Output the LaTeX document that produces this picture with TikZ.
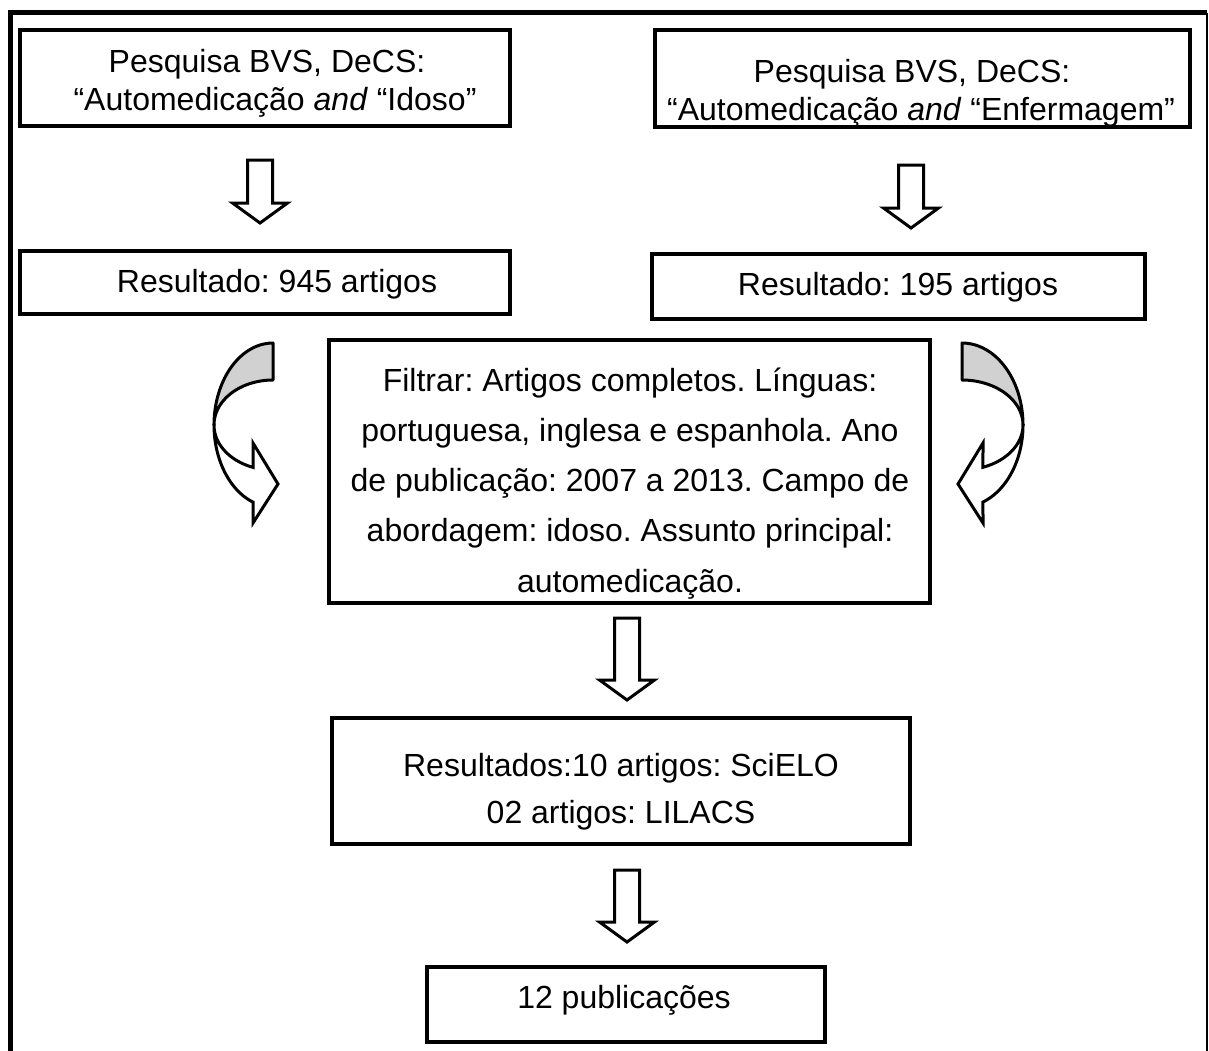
\documentclass[tikz,border=0pt]{standalone}
\usepackage{fontspec}
\setmainfont{Liberation Sans}
\begin{document}
\frenchspacing
\begin{tikzpicture}[x=1pt,y=-1pt,
  box/.style={draw, line width=4pt, fill=white, inner sep=0pt, outer sep=0pt, minimum width=#1},
  txt/.style={font=\fontsize{32}{38}\selectfont\frenchspacing, inner sep=0pt, anchor=base},
  arrowline/.style={draw=black, fill=white, line width=3pt, line join=miter},
  curvgray/.style={draw=black, fill=black!18, line width=3pt, line join=round},
  curvwhite/.style={draw=black, fill=white, line width=3pt, line join=miter},
  pics/blockdown/.style={code={
    \path[arrowline] (-12.5,0) -- (12.5,0) -- (12.5,#1) -- (27.5,#1) -- (0,{#1+20}) -- (-27.5,#1) -- (-12.5,#1) -- cycle;}}
]
\useasboundingbox (0,0) rectangle (1209,1050);
% outer frame
\draw[line width=4.5pt] (10.5,1052) -- (10.5,12.5) -- (1207,12.5);
\draw[line width=2.5pt] (1207,12.5) -- (1207,1052);

% top left
\node[box=490, minimum height=96] (tl) at (265,78) {};
\node[txt] (tl1) at (267,72) {Pesquisa BVS, DeCS:};
\node[txt] (tl2) at (275,110) {“Automedicação \textit{and} “Idoso”};

% top right
\node[box=535, minimum height=97] (tr) at (922,78.5) {};
\begin{scope}
\clip (tr.south west) rectangle (tr.north east);
\node[txt] (tr1) at (912,82) {Pesquisa BVS, DeCS:};
\node[txt] (tr2) at (921,120) {“Automedicação \textit{and} “Enfermagem”};
\end{scope}
\draw[line width=4pt] (tr.south west) rectangle (tr.north east);

% straight arrows
\pic at (260,160) {blockdown=43};
\pic at (911,165) {blockdown=43};

% results
\node[box=490, minimum height=63] (r1) at (265,282.5) {};
\node[txt] (r1t) at (277,292) {Resultado: 945 artigos};
\node[box=493, minimum height=65] (r2) at (898.5,286) {};
\node[txt] (r2t) at (898,295) {Resultado: 195 artigos};

% filter box
\node[box=601, minimum height=263] (f) at (629.5,471.5) {};
\node[txt] (f1) at (630,391) {Filtrar: Artigos completos. Línguas:};
\node[txt] (f2) at (630,441) {portuguesa, inglesa e espanhola. Ano};
\node[txt] (f3) at (630,491) {de publicação: 2007 a 2013. Campo de};
\node[txt] (f4) at (630,541.5) {abordagem: idoso. Assunto principal:};
\node[txt] (f5) at (630,592) {automedicação.};

% curved arrows left
\path[curvgray] plot[domain=270:180, samples=40] ({273+59*cos(\x)},{425+82*sin(\x)})
   -- plot[domain=180:270, samples=40] ({273+59*cos(\x)},{425+45*sin(\x)}) -- cycle;
\path[curvwhite] plot[domain=180:109.8, samples=40] ({273+59*cos(\x)},{425+82*sin(\x)})
   -- (253,523) -- (278,484) -- (253,443)
   -- plot[domain=109.8:180, samples=40] ({273+59*cos(\x)},{425+45*sin(\x)}) -- cycle;
% curved arrow right
\path[curvgray] plot[domain=-90:0, samples=40] ({962+61*cos(\x)},{425+82*sin(\x)})
   -- plot[domain=0:-90, samples=40] ({962+61*cos(\x)},{425+45*sin(\x)}) -- cycle;
\path[curvwhite] plot[domain=0:69.9, samples=40] ({962+61*cos(\x)},{425+82*sin(\x)})
   -- (983,523) -- (958,484) -- (983,443)
   -- plot[domain=69.9:0, samples=40] ({962+61*cos(\x)},{425+45*sin(\x)}) -- cycle;

% arrow to results
\pic at (627,618) {blockdown=62};

% final results
\node[box=578, minimum height=126] (res) at (621,781) {};
\node[txt] (res1) at (621,776) {Resultados:10 artigos: SciELO};
\node[txt] (res2) at (621,823) {02 artigos: LILACS};

\pic at (627,870) {blockdown=52};

\node[box=398, minimum height=75] (pub) at (626,1004.5) {};
\node[txt] (pubt) at (624,1008) {12 publicações};
\end{tikzpicture}
\end{document}
